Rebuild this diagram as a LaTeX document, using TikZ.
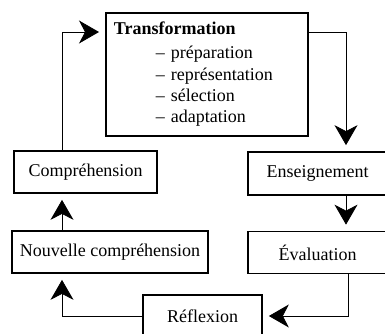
\documentclass[tikz,border=0pt]{standalone}
\usepackage{fontspec}
\setmainfont{Liberation Serif}
\usetikzlibrary{arrows.meta}
\begin{document}
\begin{tikzpicture}[x=1pt,y=-1pt,
  box/.style={draw, line width=1.7pt, inner sep=0pt, font=\fontsize{18}{21.3}\selectfont},
  arr/.style={line width=0.8pt, -{Stealth[length=20pt,width=23pt,inset=6pt]}, shorten >=6pt}]
\useasboundingbox (0,0) rectangle (385,333);
\clip (0,0) rectangle (385,333);
\node (T) [box, anchor=north west, minimum width=202pt, minimum height=123pt,
  text width=186pt, align=left] at (105,12)
  {\textbf{Transformation}\\[2.7pt]
   \hspace*{42pt}– préparation\\
   \hspace*{42pt}– représentation\\
   \hspace*{42pt}– sélection\\
   \hspace*{42pt}– adaptation};
\node (C) [box, minimum width=143pt, minimum height=42pt] at (85.5,172) {Compréhension};
\node (N) [box, minimum width=196pt, minimum height=42pt] at (110,252) {Nouvelle compréhension};
\node (E) [box, minimum width=139pt, minimum height=43pt] at (317.5,173.5) {Enseignement};
\node (V) [box, minimum width=139pt, minimum height=42pt] at (317.5,252.5) {Évaluation};
\node (R) [box, minimum width=119pt, minimum height=42pt] at (202.5,316) {Réflexion};
\draw[arr] ([xshift=-23.5pt]C.north) |- ([yshift=-20pt]T.north west);
\draw[arr] ([yshift=-20pt]T.north east) -| ([xshift=28.5pt]E.north);
\draw[arr] ([xshift=28.5pt]E.south) -- ([xshift=28.5pt]V.north);
\draw[arr] ([xshift=30.5pt]V.south) |- (R.east);
\draw[arr] (R.west) -| ([xshift=-48pt]N.south);
\draw[arr] ([xshift=-48pt]N.north) -- ([xshift=-23.5pt]C.south);
\end{tikzpicture}
\end{document}
